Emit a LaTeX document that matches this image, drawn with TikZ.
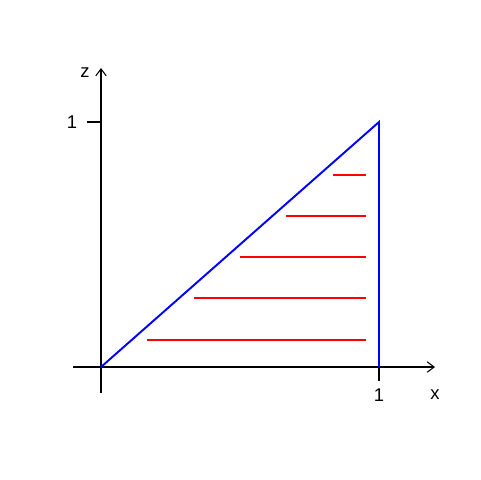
\documentclass[tikz,border=0pt]{standalone}
\usepackage{fontspec}
\setmainfont{Liberation Sans}
\usetikzlibrary{arrows.meta}

\begin{document}
\begin{tikzpicture}[x=0.02cm, y=-0.02cm,
    axis/.style={line width=0.6pt, -{Straight Barb[length=4pt, width=6pt]}},
    lbl/.style={font=\fontsize{10.5}{12}\selectfont, inner sep=0pt}]
    \useasboundingbox (0,0) rectangle (480,480);
    % axes
    \coordinate (origin) at (101,367);
    \coordinate (xstart) at (73,367);
    \coordinate (xend) at (435,367);
    \coordinate (zstart) at (101,393);
    \coordinate (zend) at (101,68);
    \draw[axis] (xstart) -- (xend);
    \draw[axis] (zstart) -- (zend);
    \node[lbl] (xlabel) at (435,395) {x};
    \node[lbl] (zlabel) at (85,73) {z};
    % ticks
    \coordinate (xone) at (379,367);
    \coordinate (xtick) at (379,381);
    \coordinate (zone) at (101,122);
    \coordinate (ztick) at (87,122);
    \draw[line width=0.6pt] (xone) -- (xtick);
    \draw[line width=0.6pt] (zone) -- (ztick);
    \node[lbl] (xonelabel) at (379,395) {1};
    \node[lbl] (zonelabel) at (72,122) {1};
    % region
    \coordinate (top) at (379,122);
    \draw[blue, line width=1.1pt] (origin) -- (top) -- (xone);
    \foreach \y/\xl in {340/147, 298/194, 257/240, 216/286, 175/333} {
      \coordinate (a\y) at (\xl,\y);
      \coordinate (b\y) at (366,\y);
      \draw[red, line width=1.1pt] (a\y) -- (b\y);
    }
\end{tikzpicture}
\end{document}
